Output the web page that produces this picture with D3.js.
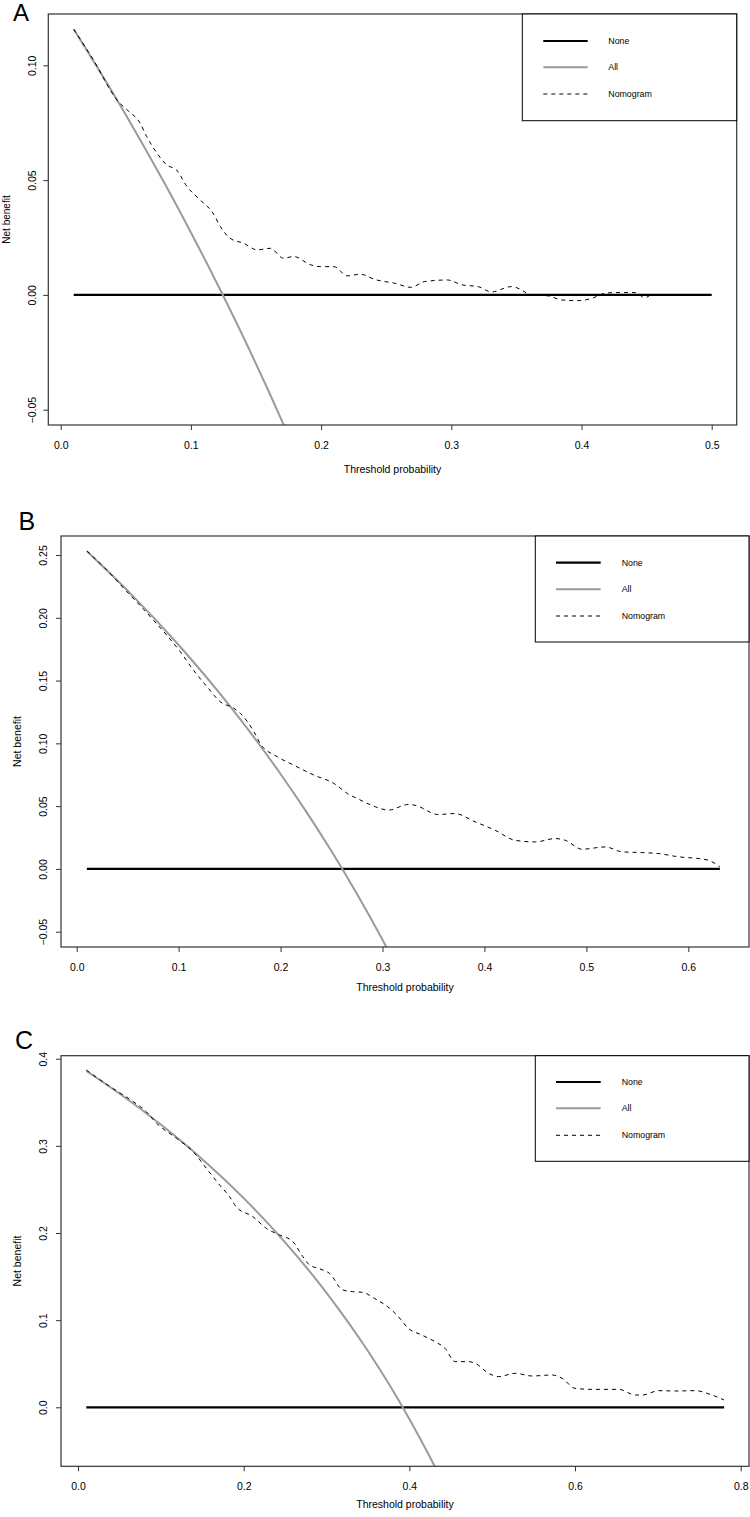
<!DOCTYPE html>
<html><head><meta charset="utf-8">
<script src="https://cdn.jsdelivr.net/npm/d3@7"></script>
<style>
html,body{margin:0;padding:0;background:#fff;}
svg text{font-family:"Liberation Sans",Arial,Helvetica,sans-serif;fill:#000;}
</style></head>
<body>
<svg id="chart" width="750" height="1517"></svg>
<script>
// ---------- data ----------
const panelLetters = ["A", "B", "C"];
const legendLabels = ["None", "All", "Nomogram"];
const xAxisTitle = "Threshold probability";
const yAxisTitle = "Net benefit";

// Panel A
const xTicksA = [0, 0.1, 0.2, 0.3, 0.4, 0.5];
const xTickLabelsA = ["0.0", "0.1", "0.2", "0.3", "0.4", "0.5"];
const yTicksA = [-0.05, 0, 0.05, 0.10];
const yTickLabelsA = ["\u22120.05", "0.00", "0.05", "0.10"];
const noneXA = [0.01, 0.5];
const noneYA = [0, 0];
const allXA = [0.01, 0.02, 0.04, 0.06, 0.08, 0.10, 0.12, 0.14, 0.16, 0.18];
const allYA = [0.1157, 0.1066, 0.0880, 0.0686, 0.0484, 0.0272, 0.0051, -0.0180, -0.0423, -0.0677];
const nomoXA = [0.010, 0.028, 0.038, 0.043, 0.051, 0.061, 0.066, 0.074, 0.0815, 0.089, 0.097, 0.107, 0.117, 0.1226, 0.130, 0.1405, 0.151, 0.161, 0.171, 0.179, 0.192, 0.1995, 0.21, 0.22, 0.230, 0.242, 0.2564, 0.269, 0.2795, 0.297, 0.308, 0.3205, 0.331, 0.346, 0.354, 0.360, 0.374, 0.385, 0.397, 0.408, 0.418, 0.4256, 0.441, 0.4487, 0.452];
const nomoYA = [0.1157, 0.0995, 0.0893, 0.085, 0.0806, 0.0748, 0.069, 0.0617, 0.0566, 0.0544, 0.0472, 0.0414, 0.0356, 0.0298, 0.0247, 0.0225, 0.0196, 0.0203, 0.016, 0.0167, 0.0131, 0.0123, 0.0123, 0.0083, 0.009, 0.0066, 0.0051, 0.0033, 0.0058, 0.0065, 0.0044, 0.0036, 0.0013, 0.0036, 0.0022, 0.0001, -0.0004, -0.0022, -0.0025, -0.0015, 0.0007, 0.001, 0.001, -0.0012, -0.0004];

// Panel B
const xTicksB = [0, 0.1, 0.2, 0.3, 0.4, 0.5, 0.6];
const xTickLabelsB = ["0.0", "0.1", "0.2", "0.3", "0.4", "0.5", "0.6"];
const yTicksB = [-0.05, 0, 0.05, 0.10, 0.15, 0.20, 0.25];
const yTickLabelsB = ["\u22120.05", "0.00", "0.05", "0.10", "0.15", "0.20", "0.25"];
const noneXB = [0.01, 0.631];
const noneYB = [0, 0];
const allXB = [0.01, 0.05, 0.10, 0.15, 0.20, 0.225, 0.25, 0.275, 0.30, 0.32];
const allYB = [0.2530, 0.2216, 0.1783, 0.1300, 0.0756, 0.0458, 0.0140, -0.0200, -0.0564, -0.0875];
const nomoXB = [0.010, 0.0295, 0.0525, 0.062, 0.0754, 0.0885, 0.1016, 0.1148, 0.128, 0.141, 0.154, 0.1607, 0.174, 0.180, 0.197, 0.213, 0.2328, 0.2525, 0.2656, 0.2754, 0.2934, 0.3056, 0.3252, 0.3318, 0.3548, 0.371, 0.3908, 0.4105, 0.430, 0.450, 0.4695, 0.4793, 0.4957, 0.5187, 0.535, 0.5548, 0.5711, 0.5908, 0.6105, 0.620, 0.631];
const nomoYB = [0.2532, 0.238, 0.218, 0.210, 0.198, 0.186, 0.173, 0.158, 0.145, 0.133, 0.128, 0.1238, 0.109, 0.0999, 0.0893, 0.0826, 0.0747, 0.068, 0.060, 0.056, 0.0494, 0.0468, 0.0513, 0.0507, 0.0433, 0.0441, 0.0375, 0.0308, 0.0228, 0.0215, 0.0242, 0.0228, 0.0157, 0.0175, 0.0136, 0.013, 0.0122, 0.0096, 0.0082, 0.0069, 0.0016];

// Panel C
const xTicksC = [0, 0.2, 0.4, 0.6, 0.8];
const xTickLabelsC = ["0.0", "0.2", "0.4", "0.6", "0.8"];
const yTicksC = [0, 0.1, 0.2, 0.3, 0.4];
const yTickLabelsC = ["0.0", "0.1", "0.2", "0.3", "0.4"];
const noneXC = [0.01, 0.78];
const noneYC = [0, 0];
const allXC = [0.01, 0.05, 0.10, 0.15, 0.20, 0.25, 0.30, 0.35, 0.375, 0.40, 0.425, 0.44];
const allYC = [0.3859, 0.360, 0.3244, 0.2847, 0.240, 0.1893, 0.1314, 0.0646, 0.0272, -0.0133, -0.0574, -0.0857];
const nomoXC = [0.010, 0.0386, 0.0667, 0.0827, 0.0948, 0.1189, 0.139, 0.155, 0.171, 0.183, 0.191, 0.2112, 0.2273, 0.2434, 0.2594, 0.2715, 0.2795, 0.2916, 0.3036, 0.3197, 0.3317, 0.3438, 0.3578, 0.3786, 0.3867, 0.3988, 0.4149, 0.431, 0.443, 0.4552, 0.4714, 0.4794, 0.4956, 0.5077, 0.5278, 0.548, 0.5722, 0.5843, 0.600, 0.6206, 0.6528, 0.673, 0.681, 0.7012, 0.7214, 0.7456, 0.7617, 0.78];
const nomoYC = [0.387, 0.368, 0.3507, 0.339, 0.326, 0.3086, 0.2933, 0.2742, 0.255, 0.2417, 0.230, 0.2187, 0.2053, 0.1977, 0.190, 0.1728, 0.1633, 0.159, 0.1537, 0.1346, 0.1327, 0.1319, 0.125, 0.1117, 0.104, 0.0906, 0.083, 0.0753, 0.0677, 0.0524, 0.0524, 0.0505, 0.039, 0.0352, 0.039, 0.0359, 0.0371, 0.0333, 0.0218, 0.0206, 0.0206, 0.0141, 0.0141, 0.0191, 0.0187, 0.0191, 0.0153, 0.0084];

// ---------- layout (pixels) ----------
const layouts = [
  { box: [48.3, 14, 736.7, 425], xCal: [0, 0.5, 60.7, 711.7], yCal: [-0.05, 0.10, 409.7, 65.3],
    letter: [13, 21, 24], xLabY: 448.5, xTitleY: 473, yLabX: 35.5, yTitleX: 9.5, titleSize: 10,
    legend: { box: [522.3, 14, 736.7, 120.7], lx: [543.3, 587.7], tx: 608.3, rows: [41, 67.3, 94] } },
  { box: [61, 536, 749, 947], xCal: [0, 0.6, 76.7, 688.3], yCal: [-0.05, 0.25, 931.7, 555],
    letter: [18.5, 530, 25], xLabY: 971, xTitleY: 990.5, yLabX: 47, yTitleX: 21, titleSize: 10.5,
    legend: { box: [535.3, 536, 749, 642], lx: [556, 600.7], tx: 621.7, rows: [562.7, 589.3, 616] } },
  { box: [61, 1055.7, 749, 1466.3], xCal: [0, 0.8, 78, 740.7], yCal: [0, 0.4, 1407.3, 1058.7],
    letter: [15, 1048.5, 25], xLabY: 1490, xTitleY: 1507.5, yLabX: 47, yTitleX: 21, titleSize: 10.5,
    legend: { box: [535.3, 1055.7, 749, 1161.3], lx: [556, 600.7], tx: 621.7, rows: [1082, 1108.3, 1135.3] } }
];

const panels = [
  { xTicks: xTicksA, xTickLabels: xTickLabelsA, yTicks: yTicksA, yTickLabels: yTickLabelsA,
    none: [noneXA, noneYA], all: [allXA, allYA], nomo: [nomoXA, nomoYA] },
  { xTicks: xTicksB, xTickLabels: xTickLabelsB, yTicks: yTicksB, yTickLabels: yTickLabelsB,
    none: [noneXB, noneYB], all: [allXB, allYB], nomo: [nomoXB, nomoYB] },
  { xTicks: xTicksC, xTickLabels: xTickLabelsC, yTicks: yTicksC, yTickLabels: yTickLabelsC,
    none: [noneXC, noneYC], all: [allXC, allYC], nomo: [nomoXC, nomoYC] }
];

const svg = d3.select("#chart");
const boxColor = "#333";
const grayColor = "#9b9b9b";

panels.forEach((p, i) => {
  const L = layouts[i];
  const [bx0, by0, bx1, by1] = L.box;
  const x = d3.scaleLinear().domain([L.xCal[0], L.xCal[1]]).range([L.xCal[2], L.xCal[3]]);
  const y = d3.scaleLinear().domain([L.yCal[0], L.yCal[1]]).range([L.yCal[2], L.yCal[3]]);
  const g = svg.append("g");

  const clipId = "clip" + i;
  svg.append("clipPath").attr("id", clipId).append("rect")
    .attr("x", bx0).attr("y", by0).attr("width", bx1 - bx0).attr("height", by1 - by0);

  // x axis
  const xAxis = d3.axisBottom(x).tickValues(p.xTicks).tickSize(5)
    .tickFormat((d, k) => p.xTickLabels[k]);
  const xg = g.append("g").attr("transform", `translate(0,${by1})`).call(xAxis);
  xg.select(".domain").remove();
  xg.selectAll(".tick line").attr("stroke", boxColor).attr("stroke-width", 1);
  xg.selectAll(".tick text").attr("y", L.xLabY - by1).attr("dy", 0)
    .style("font-size", "10.5px").style("font-family", '"Liberation Sans", Arial, sans-serif');

  // y axis
  const yAxis = d3.axisLeft(y).tickValues(p.yTicks).tickSize(5)
    .tickFormat((d, k) => p.yTickLabels[k]);
  const yg = g.append("g").attr("transform", `translate(${bx0},0)`).call(yAxis);
  yg.select(".domain").remove();
  yg.selectAll(".tick line").attr("stroke", boxColor).attr("stroke-width", 1);
  yg.selectAll(".tick text")
    .attr("x", null).attr("dy", null)
    .attr("text-anchor", "middle")
    .attr("transform", `translate(${L.yLabX - bx0},0) rotate(-90)`)
    .style("font-size", "10.5px").style("font-family", '"Liberation Sans", Arial, sans-serif');

  // axis titles
  g.append("text").attr("x", (bx0 + bx1) / 2).attr("y", L.xTitleY)
    .attr("text-anchor", "middle").style("font-size", "10.5px").text(xAxisTitle);
  g.append("text").attr("transform", `translate(${L.yTitleX},${(by0 + by1) / 2}) rotate(-90)`)
    .attr("text-anchor", "middle").style("font-size", L.titleSize + "px").text(yAxisTitle);

  // panel letter
  g.append("text").attr("x", L.letter[0]).attr("y", L.letter[1])
    .style("font-size", L.letter[2] + "px").text(panelLetters[i]);

  // lines
  const plot = g.append("g").attr("clip-path", `url(#${clipId})`);
  const toPts = (s) => s[0].map((v, k) => [v, s[1][k]]);
  const line = d3.line().x(d => x(d[0])).y(d => y(d[1])).curve(d3.curveMonotoneX);

  plot.append("path").attr("d", line(toPts(p.none))).attr("fill", "none")
    .attr("stroke", "#000").attr("stroke-width", 2.2);
  plot.append("path").attr("d", line(toPts(p.all))).attr("fill", "none")
    .attr("stroke", grayColor).attr("stroke-width", 2);
  plot.append("path").attr("d", line(toPts(p.nomo))).attr("fill", "none")
    .attr("stroke", "#000").attr("stroke-width", 1).attr("stroke-dasharray", "4,4");

  // plot box
  g.append("rect").attr("x", bx0).attr("y", by0).attr("width", bx1 - bx0).attr("height", by1 - by0)
    .attr("fill", "none").attr("stroke", boxColor).attr("stroke-width", 1.2);

  // legend
  const lg = L.legend;
  g.append("rect").attr("x", lg.box[0]).attr("y", lg.box[1])
    .attr("width", lg.box[2] - lg.box[0]).attr("height", lg.box[3] - lg.box[1])
    .attr("fill", "#fff").attr("stroke", "#000").attr("stroke-width", 1);
  const styles = [
    { stroke: "#000", w: 2.2, dash: null },
    { stroke: grayColor, w: 2, dash: null },
    { stroke: "#000", w: 1, dash: "4,4" }
  ];
  legendLabels.forEach((lab, k) => {
    const ry = lg.rows[k];
    const ln = g.append("line").attr("x1", lg.lx[0]).attr("x2", lg.lx[1]).attr("y1", ry).attr("y2", ry)
      .attr("stroke", styles[k].stroke).attr("stroke-width", styles[k].w);
    if (styles[k].dash) ln.attr("stroke-dasharray", styles[k].dash);
    g.append("text").attr("x", lg.tx).attr("y", ry).attr("dy", "0.35em")
      .style("font-size", "8.8px").text(lab);
  });
});
</script>
</body></html>
